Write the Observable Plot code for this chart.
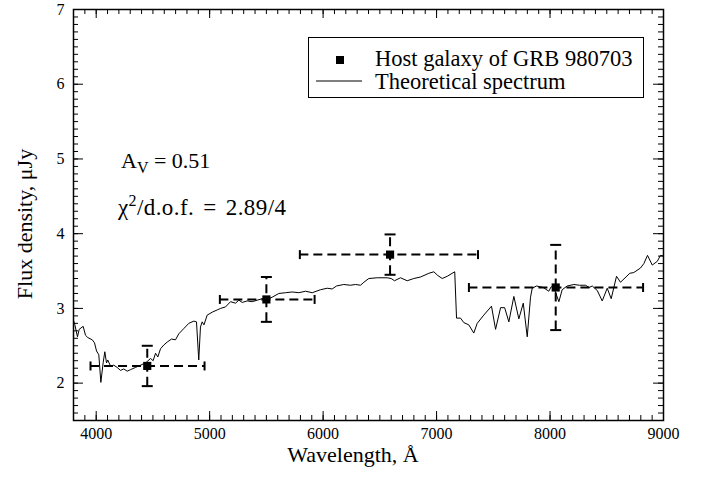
<!DOCTYPE html>
<html><head><meta charset="utf-8">
<script src="https://cdn.jsdelivr.net/npm/d3@7"></script>
<script src="https://cdn.jsdelivr.net/npm/@observablehq/plot@0.6"></script>
<style>
body{margin:0;background:#fff;}
#wrap{position:relative;width:704px;height:487px;font-family:"Liberation Serif","Times New Roman",Times,"DejaVu Serif",serif;color:#000;}
#wrap svg{position:absolute;left:0;top:0;}
#wrap svg text{font-family:"Liberation Serif","Times New Roman",Times,"DejaVu Serif",serif;}
.lbl{position:absolute;font-size:22px;white-space:nowrap;line-height:1;}
#legend{position:absolute;left:308px;top:37px;width:334px;height:59px;border:1px solid #000;background:#fff;}
#legend .row{position:absolute;left:0;font-size:22.5px;white-space:nowrap;line-height:20px;height:20px;}
sub,sup{font-size:16px;line-height:0;}
</style></head><body><div id="wrap"></div>
<script>
// Measured photometry (host galaxy of GRB 980703)
const wav    = [4450, 5500, 6590, 8050];
const flux   = [2.23, 3.12, 3.72, 3.28];
const wavLo  = [3950, 5090, 5795, 7285];
const wavHi  = [4955, 5925, 7365, 8820];
const fluxLo = [1.96, 2.82, 3.45, 2.71];
const fluxHi = [2.50, 3.42, 3.99, 3.85];

// Theoretical spectrum: wavelength (Å) and flux density (µJy)
const specWav = [3800,3812,3835,3850,3885,3906,3926,3965,3985,4003,4023,4041,4062,4076,4091,4102,4126,4155,4185,4214,4243,4273,4302,4346,4391,4435,4479,4502,4523,4543,4567,4596,4626,4664,4699,4728,4772,4816,4860,4884,4904,4919,4934,4950,4978,5023,5067,5096,5140,5184,5228,5257,5287,5331,5375,5419,5463,5507,5551,5610,5669,5728,5786,5845,5904,5977,6036,6080,6118,6182,6240,6286,6330,6359,6403,6477,6565,6600,6629,6682,6741,6799,6858,6932,6976,7011,7050,7094,7160,7176,7211,7240,7284,7328,7358,7416,7484,7520,7564,7600,7637,7681,7725,7764,7799,7828,7843,7881,7940,7989,8010,8033,8078,8107,8151,8210,8260,8313,8345,8372,8416,8460,8504,8539,8586,8621,8703,8738,8797,8827,8859,8901,8945,8974,9000];
const specFlux = [2.84,2.78,2.62,2.72,2.76,2.64,2.61,2.58,2.54,2.43,2.38,2.01,2.28,2.42,2.27,2.31,2.23,2.24,2.21,2.17,2.19,2.16,2.18,2.21,2.24,2.27,2.33,2.30,2.40,2.35,2.46,2.51,2.55,2.59,2.58,2.66,2.73,2.80,2.83,2.82,2.31,2.75,2.82,2.78,2.91,2.95,2.98,3.00,3.02,3.09,3.07,3.11,3.08,3.10,3.09,3.11,3.13,3.12,3.15,3.20,3.21,3.22,3.21,3.23,3.21,3.25,3.27,3.26,3.30,3.32,3.31,3.32,3.31,3.35,3.40,3.41,3.41,3.40,3.37,3.41,3.37,3.40,3.42,3.47,3.49,3.44,3.40,3.43,3.49,2.87,2.87,2.81,2.78,2.67,2.80,2.91,3.03,2.72,3.01,3.01,2.82,3.16,2.86,3.07,2.62,3.15,3.27,3.30,3.28,3.23,3.29,3.28,3.09,3.25,3.30,3.32,3.31,3.31,3.28,3.30,3.24,3.10,3.27,3.13,3.43,3.35,3.47,3.48,3.54,3.60,3.71,3.58,3.63,3.71,3.70];

// Axis ticks
const xTicks = [4000, 5000, 6000, 7000, 8000, 9000];
const yTicks = [2, 3, 4, 5, 6, 7];
const xMinor = d3.range(3800, 9001, 100);
const yMinor = d3.range(15, 71, 1).map(d => d / 10);

const points = wav.map((w, i) => ({wav: w, flux: flux[i], wavLo: wavLo[i], wavHi: wavHi[i], fluxLo: fluxLo[i], fluxHi: fluxHi[i]}));
const spectrum = specWav.map((w, i) => ({w, f: specFlux[i]}));

const W = 704, H = 487, mL = 73, mR = 41, mT = 9, mB = 67;
const fw = W - mL - mR, fh = H - mT - mB;

const vbar = {draw(ctx, size) { const r = Math.sqrt(size / Math.PI); ctx.moveTo(0, -r); ctx.lineTo(0, r); }};
const hbar = {draw(ctx, size) { const r = Math.sqrt(size / Math.PI); ctx.moveTo(-r, 0); ctx.lineTo(r, 0); }};
const dash = "9,5";
const serif = "'Liberation Serif', 'Times New Roman', Times, 'DejaVu Serif', serif";

const chart = Plot.plot({
  width: W, height: H,
  marginLeft: mL, marginRight: mR, marginTop: mT, marginBottom: mB,
  x: {domain: [3800, 9000]},
  y: {domain: [1.5, 7]},
  style: {fontFamily: serif, fontSize: "16px", color: "black", background: "white"},
  marks: [
    Plot.tickX(xMinor, {x: d => d, insetTop: fh - 5, stroke: "black"}),
    Plot.tickX(xMinor, {x: d => d, insetBottom: fh - 5, stroke: "black"}),
    Plot.tickX(xTicks, {x: d => d, insetTop: fh - 9, stroke: "black"}),
    Plot.tickX(xTicks, {x: d => d, insetBottom: fh - 9, stroke: "black"}),
    Plot.tickY(yMinor, {y: d => d, insetRight: fw - 5, stroke: "black"}),
    Plot.tickY(yMinor, {y: d => d, insetLeft: fw - 5, stroke: "black"}),
    Plot.tickY(yTicks, {y: d => d, insetRight: fw - 10, stroke: "black"}),
    Plot.tickY(yTicks, {y: d => d, insetLeft: fw - 10, stroke: "black"}),
    Plot.axisX(xTicks, {tickSize: 0, tickPadding: 7, label: null, tickFormat: "d", fontSize: 16}),
    Plot.axisY(yTicks, {tickSize: 0, tickPadding: 9, label: null, tickFormat: "d", fontSize: 16}),
    Plot.line(spectrum, {x: "w", y: "f", stroke: "black", strokeWidth: 1}),
    Plot.ruleY(points, {y: "flux", x1: "wavLo", x2: "wavHi", stroke: "black", strokeWidth: 2, strokeDasharray: dash}),
    Plot.ruleX(points, {x: "wav", y1: "fluxLo", y2: "fluxHi", stroke: "black", strokeWidth: 2, strokeDasharray: dash}),
    Plot.dot(points, {x: "wavLo", y: "flux", symbol: vbar, r: 4.5, stroke: "black", strokeWidth: 2, fill: "none"}),
    Plot.dot(points, {x: "wavHi", y: "flux", symbol: vbar, r: 4.5, stroke: "black", strokeWidth: 2, fill: "none"}),
    Plot.dot(points, {x: "wav", y: "fluxLo", symbol: hbar, r: 5.5, stroke: "black", strokeWidth: 2, fill: "none"}),
    Plot.dot(points, {x: "wav", y: "fluxHi", symbol: hbar, r: 5.5, stroke: "black", strokeWidth: 2, fill: "none"}),
    Plot.dot(points, {x: "wav", y: "flux", symbol: "square", r: 4.6, fill: "black", stroke: "none"}),
    Plot.frame({stroke: "black", strokeWidth: 1.5})
  ]
});

const wrap = document.getElementById("wrap");
wrap.appendChild(chart);

function addLabel(html, css) {
  const d = document.createElement("div");
  d.className = "lbl";
  d.innerHTML = html;
  Object.assign(d.style, css);
  wrap.appendChild(d);
  return d;
}
// axis titles
addLabel("Wavelength, Å", {left: "353px", top: "444px", transform: "translateX(-50%)"});
addLabel("Flux density, μJy", {left: "25px", top: "224px", transform: "translate(-50%,-50%) rotate(-90deg)"});
// annotations
addLabel("A<sub>V</sub> = 0.51", {left: "121px", top: "150px", fontSize: "22px"});
addLabel("χ<sup>2</sup>/d.o.f. = 2.89/4", {left: "118px", top: "196px", fontSize: "23px", letterSpacing: "0.4px", wordSpacing: "3px"});

// legend
const leg = document.createElement("div");
leg.id = "legend";
leg.innerHTML =
  '<svg width="70" height="59" style="position:absolute;left:0;top:0">' +
  '<rect x="27" y="18" width="8" height="8" fill="#000"/>' +
  '<line x1="7" y1="43" x2="53" y2="43" stroke="#000" stroke-width="1"/></svg>' +
  '<div class="row" style="left:66px;top:11px">Host galaxy of GRB 980703</div>' +
  '<div class="row" style="left:66px;top:34px">Theoretical spectrum</div>';
wrap.appendChild(leg);
</script>
</body></html>
